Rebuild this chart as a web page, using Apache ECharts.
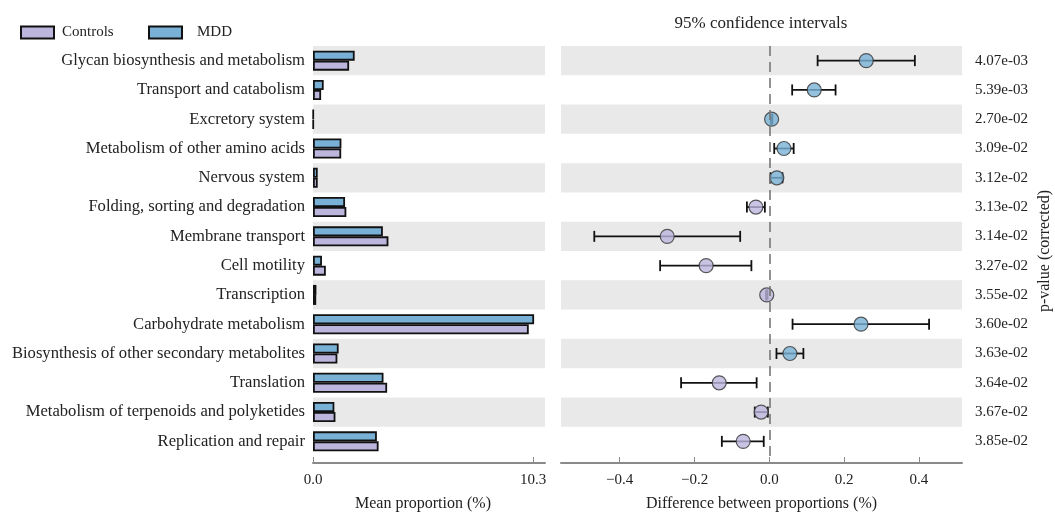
<!DOCTYPE html>
<html>
<head>
<meta charset="utf-8">
<script src="https://cdn.jsdelivr.net/npm/echarts@6/dist/echarts.min.js"></script>
<style>
  html, body { margin: 0; padding: 0; background: #fff; }
  #chart { width: 1055px; height: 517px; }
</style>
</head>
<body>
<div id="chart"></div>
<script>
const categories = [
  'Glycan biosynthesis and metabolism',
  'Transport and catabolism',
  'Excretory system',
  'Metabolism of other amino acids',
  'Nervous system',
  'Folding, sorting and degradation',
  'Membrane transport',
  'Cell motility',
  'Transcription',
  'Carbohydrate metabolism',
  'Biosynthesis of other secondary metabolites',
  'Translation',
  'Metabolism of terpenoids and polyketides',
  'Replication and repair'
];
const controlsMean = [1.69, 0.38, 0.02, 1.32, 0.22, 1.56, 3.53, 0.6, 0.15, 10.1, 1.14, 3.47, 1.05, 3.07];
const mddMean = [1.95, 0.5, 0.02, 1.33, 0.22, 1.5, 3.27, 0.42, 0.16, 10.35, 1.2, 3.3, 1.0, 2.99];
const diffEstimate = [0.259, 0.12, 0.006, 0.039, 0.02, -0.036, -0.273, -0.169, -0.007, 0.245, 0.055, -0.134, -0.022, -0.07];
const diffLower = [0.129, 0.061, 0.004, 0.013, 0.003, -0.06, -0.468, -0.292, -0.009, 0.062, 0.019, -0.236, -0.039, -0.127];
const diffUpper = [0.389, 0.177, 0.008, 0.065, 0.035, -0.012, -0.078, -0.048, -0.005, 0.427, 0.091, -0.034, -0.004, -0.015];
const pValues = ['4.07e-03', '5.39e-03', '2.70e-02', '3.09e-02', '3.12e-02', '3.13e-02', '3.14e-02',
  '3.27e-02', '3.55e-02', '3.60e-02', '3.63e-02', '3.64e-02', '3.67e-02', '3.85e-02'];
const meanTicks = [0, 10.3];
const diffTicks = [-0.4, -0.2, 0, 0.2, 0.4];

const controlsColor = '#bcb5dc';
const mddColor = '#79b1d6';
const bandColor = '#e9e9e9';
const axisColor = '#8a8a8a';
const font = '"Liberation Serif", "Times New Roman", serif';

const chart = echarts.init(document.getElementById('chart'));

const bandArea = {
  show: true,
  interval: 0,
  areaStyle: { color: [bandColor, 'rgba(255,255,255,0)'] }
};

const bottomAxis = {
  type: 'value',
  offset: 7,
  splitLine: { show: false },
  axisLine: { show: true, lineStyle: { color: axisColor, width: 2 } },
  axisTick: { show: true, inside: true, length: 6, lineStyle: { color: axisColor, width: 1 } },
  nameLocation: 'middle',
  nameGap: 33,
  nameTextStyle: { fontSize: 16, color: '#222', fontFamily: font }
};

const legendBase = {
  top: 25,
  padding: 0,
  icon: 'rect',
  itemWidth: 33,
  itemHeight: 12,
  textStyle: { fontSize: 15, color: '#222', fontFamily: font }
};

const option = {
  animation: false,
  textStyle: { fontFamily: font, color: '#222' },
  title: {
    text: '95% confidence intervals',
    left: 756,
    top: 10,
    textAlign: 'center',
    textStyle: { fontSize: 17, fontWeight: 'normal', color: '#222', fontFamily: font }
  },
  legend: [
    Object.assign({}, legendBase, {
      data: ['Controls'],
      left: 20,
      textStyle: Object.assign({}, legendBase.textStyle, { padding: [0, 0, 0, 3] })
    }),
    Object.assign({}, legendBase, {
      data: ['MDD'],
      left: 148,
      textStyle: Object.assign({}, legendBase.textStyle, { padding: [0, 0, 0, 10] })
    })
  ],
  grid: [
    { left: 313, top: 46, width: 232, height: 413 },
    { left: 561, top: 46, width: 401, height: 413 }
  ],
  xAxis: [
    Object.assign({}, bottomAxis, {
      gridIndex: 0,
      min: 0,
      max: 10.86,
      name: 'Mean proportion (%)',
      nameTextStyle: Object.assign({}, bottomAxis.nameTextStyle, { padding: [0, 12, 0, 0] }),
      axisTick: Object.assign({}, bottomAxis.axisTick, { customValues: meanTicks }),
      axisLabel: {
        customValues: meanTicks,
        fontSize: 15,
        color: '#222',
        margin: 10,
        formatter: v => v.toFixed(1)
      }
    }),
    Object.assign({}, bottomAxis, {
      gridIndex: 1,
      min: -0.557,
      max: 0.515,
      name: 'Difference between proportions (%)',
      axisTick: Object.assign({}, bottomAxis.axisTick, { customValues: diffTicks }),
      axisLabel: {
        customValues: diffTicks,
        fontSize: 15,
        color: '#222',
        margin: 10,
        formatter: v => (v < 0 ? '\u2212' : '') + Math.abs(v).toFixed(1)
      }
    })
  ],
  yAxis: [
    {
      type: 'category',
      gridIndex: 0,
      inverse: true,
      data: categories,
      axisLine: { show: false },
      axisTick: { show: false },
      splitArea: bandArea,
      axisLabel: { fontSize: 16.6, color: '#222', margin: 8, interval: 0 }
    },
    {
      type: 'category',
      gridIndex: 1,
      inverse: true,
      position: 'right',
      data: pValues,
      axisLine: { show: false },
      axisTick: { show: false },
      splitArea: bandArea,
      axisLabel: { fontSize: 15, color: '#222', margin: 13, interval: 0 },
      name: 'p-value (corrected)',
      nameLocation: 'middle',
      nameRotate: 90,
      nameGap: 75,
      nameTextStyle: { fontSize: 16, color: '#222', fontFamily: font }
    }
  ],
  series: [
    {
      name: 'MDD',
      type: 'bar',
      xAxisIndex: 0,
      yAxisIndex: 0,
      data: mddMean,
      barWidth: 10,
      barGap: '0%',
      itemStyle: { color: mddColor, borderColor: '#111', borderWidth: 1.8 }
    },
    {
      name: 'Controls',
      type: 'bar',
      xAxisIndex: 0,
      yAxisIndex: 0,
      data: controlsMean,
      barWidth: 10,
      barGap: '0%',
      itemStyle: { color: controlsColor, borderColor: '#111', borderWidth: 1.8 }
    },
    {
      type: 'custom',
      xAxisIndex: 1,
      yAxisIndex: 1,
      z: 2,
      data: categories.map((c, i) => [diffLower[i], diffUpper[i], i]),
      encode: { x: [0, 1], y: 2 },
      renderItem: (params, api) => {
        const row = api.value(2);
        const lo = api.coord([api.value(0), row]);
        const hi = api.coord([api.value(1), row]);
        const cap = 5.5;
        const style = { stroke: '#111', lineWidth: 1.8 };
        return {
          type: 'group',
          children: [
            { type: 'line', shape: { x1: lo[0], y1: lo[1], x2: hi[0], y2: hi[1] }, style },
            { type: 'line', shape: { x1: lo[0], y1: lo[1] - cap, x2: lo[0], y2: lo[1] + cap }, style },
            { type: 'line', shape: { x1: hi[0], y1: hi[1] - cap, x2: hi[0], y2: hi[1] + cap }, style }
          ]
        };
      }
    },
    {
      type: 'scatter',
      xAxisIndex: 1,
      yAxisIndex: 1,
      z: 3,
      symbolSize: 14,
      data: diffEstimate.map((d, i) => ({
        value: [d, i],
        itemStyle: { color: d > 0 ? mddColor : controlsColor, borderColor: '#333', borderWidth: 1.2 }
      })),
      markLine: {
        silent: true,
        symbol: 'none',
        label: { show: false },
        lineStyle: { type: [10, 6], color: '#777', width: 1.6 },
        data: [{ xAxis: 0 }]
      }
    }
  ]
};

chart.setOption(option);
</script>
</body>
</html>
